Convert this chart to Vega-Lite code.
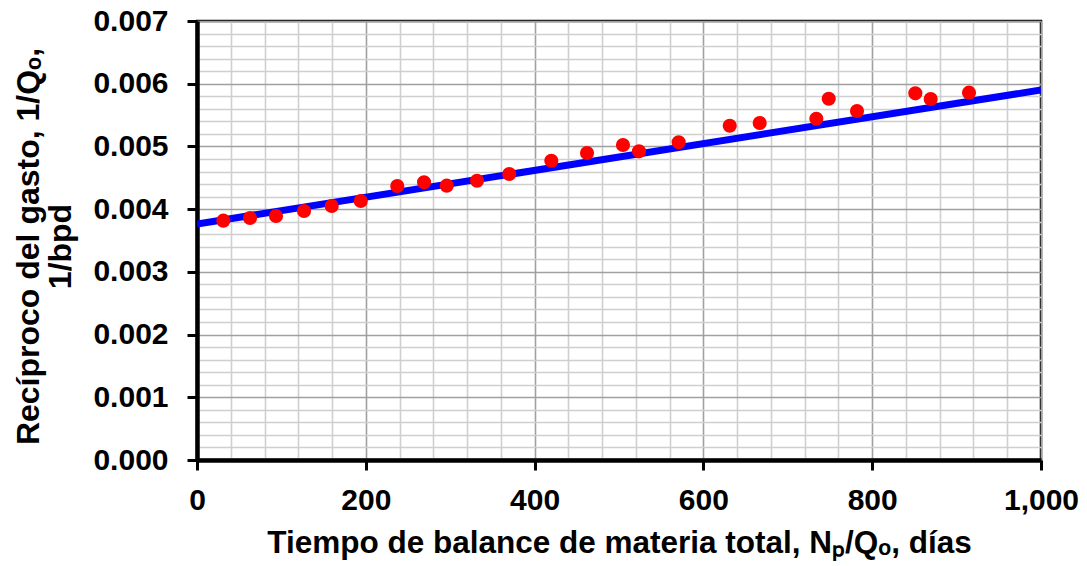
{
  "$schema": "https://vega.github.io/schema/vega-lite/v6.json",
  "autosize": "none",
  "width": 844,
  "height": 439,
  "padding": {"left": 197, "top": 21, "right": 46, "bottom": 106},
  "background": "white",
  "config": {
    "view": {"stroke": "black", "strokeWidth": 2.5},
    "font": "Liberation Sans"
  },
  "datasets": {
    "pts": [
      {"t": 31.2, "r": 0.003816},
      {"t": 62.8, "r": 0.003859},
      {"t": 93.6, "r": 0.003891},
      {"t": 126.8, "r": 0.003970},
      {"t": 159.6, "r": 0.004050},
      {"t": 194.0, "r": 0.004130},
      {"t": 237.3, "r": 0.004369},
      {"t": 269.0, "r": 0.004428},
      {"t": 295.9, "r": 0.004374},
      {"t": 331.8, "r": 0.004453},
      {"t": 370.0, "r": 0.004560},
      {"t": 419.8, "r": 0.004772},
      {"t": 462.1, "r": 0.004895},
      {"t": 504.7, "r": 0.005023},
      {"t": 523.7, "r": 0.004922},
      {"t": 570.7, "r": 0.005066},
      {"t": 631.2, "r": 0.005330},
      {"t": 666.7, "r": 0.005373},
      {"t": 733.8, "r": 0.005442},
      {"t": 748.5, "r": 0.005761},
      {"t": 782.0, "r": 0.005565},
      {"t": 851.1, "r": 0.005847},
      {"t": 869.3, "r": 0.005756},
      {"t": 914.7, "r": 0.005857}
    ],
    "fit": [
      {"t": 0, "r": 0.003763},
      {"t": 1000, "r": 0.0059}
    ]
  },
  "layer": [
    {
      "data": {"name": "fit"},
      "mark": {"type": "line", "color": "#0000FF", "strokeWidth": 7, "clip": true},
      "encoding": {
        "x": {
          "field": "t", "type": "quantitative",
          "scale": {"domain": [0, 1000], "nice": false},
          "axis": {
            "values": [0,40,80,120,160,200,240,280,320,360,400,440,480,520,560,600,640,680,720,760,800,840,880,920,960,1000],
            "tickCount": 100,
            "labelExpr": "datum.value % 200 === 0 ? format(datum.value, ',') : ''",
            "labelOverlap": false,
            "labelFont": "Liberation Sans",
            "labelFontSize": 30,
            "labelFontWeight": "bold",
            "labelColor": "black",
            "labelPadding": 15,
            "labelFlush": false,
            "tickSize": 10,
            "tickWidth": 3,
            "tickColor": "black",
            "tickOpacity": {"condition": {"test": "datum.value % 200 === 0", "value": 1}, "value": 0},
            "domainColor": "black",
            "domainWidth": 4.5,
            "grid": true,
            "gridColor": {"condition": {"test": "datum.value % 200 === 0", "value": "#A0A0A0"}, "value": "#CFCFCF"},
            "gridWidth": 1.6,
            "gridOpacity": 1,
            "title": "Tiempo de balance de materia total, Nₚ/Qₒ, días",
            "titleFont": "Liberation Sans",
            "titleFontSize": 31.5,
            "titleFontWeight": "bold",
            "titleColor": "black",
            "titleBaseline": "alphabetic",
            "titleY": 92
          }
        },
        "y": {
          "field": "r", "type": "quantitative",
          "scale": {"domain": [0, 0.007], "nice": false},
          "axis": {
            "values": [0,0.0002,0.0004,0.0006,0.0008,0.001,0.0012,0.0014,0.0016,0.0018,0.002,0.0022,0.0024,0.0026,0.0028,0.003,0.0032,0.0034,0.0036,0.0038,0.004,0.0042,0.0044,0.0046,0.0048,0.005,0.0052,0.0054,0.0056,0.0058,0.006,0.0062,0.0064,0.0066,0.0068,0.007],
            "tickCount": 100,
            "labelExpr": "round(datum.value * 10000) % 10 === 0 ? format(datum.value, '.3f') : ''",
            "labelOverlap": false,
            "labelFont": "Liberation Sans",
            "labelFontSize": 30,
            "labelFontWeight": "bold",
            "labelColor": "black",
            "labelPadding": 19,
            "labelFlush": false,
            "tickSize": 10,
            "tickWidth": 3,
            "tickColor": "black",
            "tickOpacity": {"condition": {"test": "round(datum.value * 10000) % 10 === 0", "value": 1}, "value": 0},
            "domainColor": "black",
            "domainWidth": 4.5,
            "grid": true,
            "gridColor": {"condition": {"test": "round(datum.value * 10000) % 10 === 0", "value": "#A0A0A0"}, "value": "#CFCFCF"},
            "gridWidth": 1.6,
            "gridOpacity": 1,
            "title": ["Recíproco del gasto, 1/Qₒ,", "1/bpd"],
            "titleFont": "Liberation Sans",
            "titleFontSize": 32,
            "titleFontWeight": "bold",
            "titleColor": "black",
            "titleLineHeight": 32,
            "titleBaseline": "alphabetic",
            "titleX": -159,
            "titleY": 225
          }
        }
      }
    },
    {
      "data": {"name": "pts"},
      "mark": {"type": "circle", "color": "#FF0000", "opacity": 1, "size": 200},
      "encoding": {
        "x": {"field": "t", "type": "quantitative"},
        "y": {"field": "r", "type": "quantitative"}
      }
    }
  ]
}
